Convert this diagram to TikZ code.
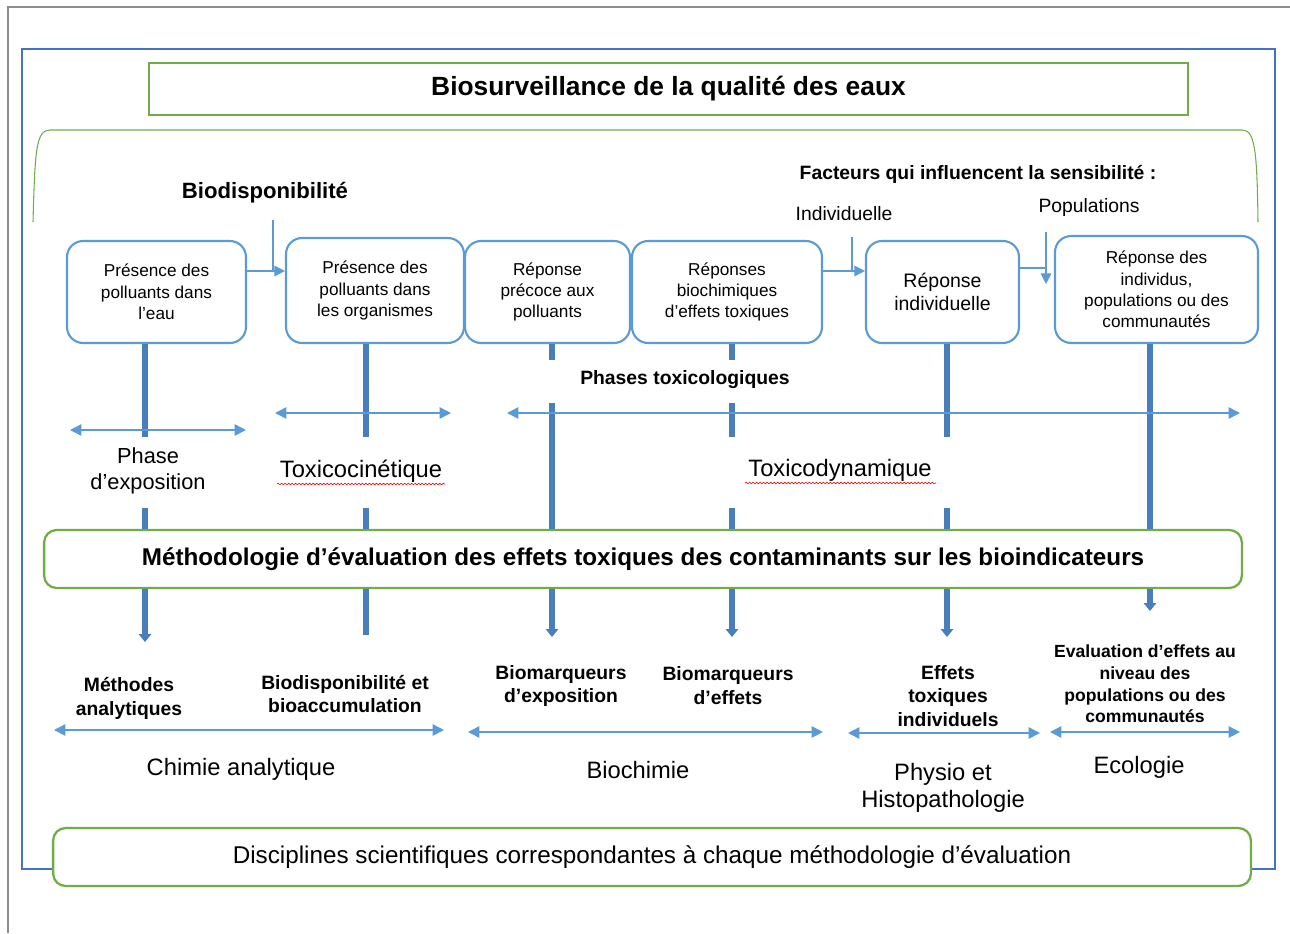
\documentclass[tikz,border=0pt]{standalone}
\usepackage{fontspec}
\setmainfont{Liberation Sans}
\usetikzlibrary{arrows.meta,decorations.pathmorphing}

\definecolor{vertcadre}{RGB}{112,173,71}
\definecolor{bleucadre}{RGB}{68,114,196}
\definecolor{bleuclair}{RGB}{91,155,213}
\definecolor{bleubarre}{RGB}{74,126,187}
\definecolor{grisbord}{RGB}{140,140,140}

\tikzset{
  etape/.style={draw=bleuclair, line width=1.2pt, rounded corners=0.32cm, fill=white,
    align=center, inner sep=1pt, minimum height=2.04cm, font=\fontsize{9.8}{12.2}\selectfont},
  cadrevert/.style={draw=vertcadre, line width=1.3pt, fill=white, align=center, minimum height=1.16cm},
  barre/.style={bleubarre, line width=3.4pt},
  barrefl/.style={barre, -{Triangle[width=7pt,length=4.5pt]}},
  fleche/.style={bleuclair, line width=0.9pt, {Triangle[width=6.5pt,length=6.5pt]}-{Triangle[width=6.5pt,length=6.5pt]}},
  lien/.style={bleuclair, line width=0.8pt},
  lienfl/.style={lien, -{Triangle[width=6pt,length=6pt]}},
  petitgras/.style={align=center, font=\fontsize{11}{13.6}\selectfont\bfseries},
  grand/.style={align=center, font=\fontsize{13.5}{15.3}\selectfont},
  souligne/.style={red, line width=0.35pt, decorate, decoration={snake, amplitude=0.45pt, segment length=2pt}}
}

\begin{document}
\begin{tikzpicture}[x=0.02cm, y=-0.02cm]
  \useasboundingbox (0,0) rectangle (1290,933);

  % Bordures
  \draw[grisbord, line width=0.6pt] (8,933) -- (8,7) -- (1290,7);
  \draw[bleucadre, line width=1.3pt] (22,49) rectangle (1275,869);

  % Titre
  \node[cadrevert, rounded corners=0pt, minimum width=20.78cm, minimum height=1.04cm,
        font=\fontsize{15}{16}\selectfont\bfseries] (titre) at (668.5,89)
        {Biosurveillance de la qualité des eaux};

  % Accolade verte
  \draw[vertcadre, line width=0.6pt] (33,222) .. controls (35,150) and (36,130) .. (50,130)
    -- (1242,130) .. controls (1255,130) and (1257,150) .. (1258,222);

  % Etapes
  \node[etape, minimum width=3.58cm] (b1) at (156.5,292) {Présence des\\polluants dans\\l'eau};
  \node[etape, minimum width=3.56cm, minimum height=2.1cm] (b2) at (375,290.5) {Présence des\\polluants dans\\les organismes};
  \node[etape, minimum width=3.3cm] (b3) at (547.5,292) {Réponse\\précoce aux\\polluants};
  \node[etape, minimum width=3.8cm] (b4) at (727,292) {Réponses\\biochimiques\\d'effets toxiques};
  \node[etape, minimum width=3.06cm, font=\fontsize{11.1}{13}\selectfont] (b5) at (942.5,292) {Réponse\\individuelle};
  \node[etape, minimum width=4.06cm, minimum height=2.14cm] (b6) at (1156.5,289.5) {Réponse des\\individus,\\populations ou des\\communautés};

  % Facteurs
  \node[petitgras, font=\fontsize{12.6}{14}\selectfont\bfseries] (biodisp) at (265,193) {Biodisponibilité};
  \node[petitgras] (facteurs) at (978,174) {Facteurs qui influencent la sensibilité :};
  \node[font=\fontsize{11}{13}\selectfont] (indiv) at (844,214) {Individuelle};
  \node[font=\fontsize{11}{13}\selectfont] (popul) at (1089,207) {Populations};

  \coordinate (j1) at (273,271);
  \coordinate (j2) at (852,271);
  \coordinate (j3) at (1046,268);
  \draw[lienfl] (b1.east |- j1) -- (b2.west |- j1);
  \draw[lien] (273,220) -- (j1);
  \draw[lienfl] (b4.east |- j2) -- (b5.west |- j2);
  \draw[lien] (852,237) -- (j2);
  \draw[lien] (b5.east |- j3) -- (j3);
  \draw[lienfl] (1046,232) -- (1046,284);

  % Phases
  \node[petitgras] (phases) at (685,380) {Phases toxicologiques};
  \node[grand, font=\fontsize{12.4}{14.7}\selectfont] (expo) at (148,471) {Phase\\d'exposition};
  \node[grand] (cinet) at (361,471) {Toxicocinétique};
  \node[grand] (dynam) at (840,470) {Toxicodynamique};
  \draw[souligne] (277,484) -- (445,484);
  \draw[souligne] (745,483) -- (936,483);

  % Methodologie
  \node[cadrevert, rounded corners=0.25cm, minimum width=23.96cm,
        font=\fontsize{13.8}{15}\selectfont\bfseries] (meth) at (643,559)
        {Méthodologie d'évaluation des effets toxiques des contaminants sur les bioindicateurs};

  % Barres verticales
  \coordinate (x1) at (145,0);
  \coordinate (x2) at (366,0);
  \coordinate (x3) at (552,0);
  \coordinate (x4) at (732,0);
  \coordinate (x5) at (947,0);
  \coordinate (x6) at (1150,0);
  \draw[barre] (x1 |- b1.south) -- (145,437);
  \draw[barre] (145,508) -- (x1 |- meth.north);
  \draw[barrefl] (x1 |- meth.south) -- (145,642);
  \draw[barre] (x2 |- b2.south) -- (366,437);
  \draw[barre] (366,508) -- (x2 |- meth.north);
  \draw[barre] (x2 |- meth.south) -- (366,635);
  \draw[barre] (x3 |- b3.south) -- (552,360);
  \draw[barre] (552,403) -- (x3 |- meth.north);
  \draw[barrefl] (x3 |- meth.south) -- (552,637);
  \draw[barre] (x4 |- b4.south) -- (732,360);
  \draw[barre] (732,403) -- (732,437);
  \draw[barre] (732,508) -- (x4 |- meth.north);
  \draw[barrefl] (x4 |- meth.south) -- (732,637);
  \draw[barre] (x5 |- b5.south) -- (947,437);
  \draw[barre] (947,508) -- (x5 |- meth.north);
  \draw[barrefl] (x5 |- meth.south) -- (947,637);
  \draw[barre] (x6 |- b6.south) -- (x6 |- meth.north);
  \draw[barrefl] (x6 |- meth.south) -- (1150,611);

  % Fleches horizontales
  \draw[fleche] (70,430) -- (246,430);
  \draw[fleche] (275,413) -- (451,413);
  \draw[fleche] (507,413) -- (1240,413);
  \draw[fleche] (54,730) -- (444,730);
  \draw[fleche] (468,732) -- (823,732);
  \draw[fleche] (848,733) -- (1040,733);
  \draw[fleche] (1050,732) -- (1240,732);

  % Methodes
  \node[petitgras] (methodes) at (129,698) {Méthodes\\analytiques};
  \node[petitgras] (bioacc) at (345,694) {Biodisponibilité et\\bioaccumulation};
  \node[petitgras] (biomexpo) at (561,686) {Biomarqueurs\\d'exposition};
  \node[petitgras] (biomeff) at (728,686) {Biomarqueurs\\d'effets};
  \node[petitgras] (effets) at (948,696) {Effets\\toxiques\\individuels};
  \node[petitgras, font=\fontsize{10}{12.3}\selectfont\bfseries] (evalu) at (1145,684) {Evaluation d'effets au\\niveau des\\populations ou des\\communautés};

  % Disciplines
  \node[grand] (chimie) at (241,769) {Chimie analytique};
  \node[grand] (biochimie) at (638,770) {Biochimie};
  \node[grand] (physio) at (943,788) {Physio et\\Histopathologie};
  \node[grand] (ecologie) at (1139,767) {Ecologie};
  \node[cadrevert, rounded corners=0.25cm, minimum width=23.96cm,
        font=\fontsize{13.8}{15}\selectfont] (disc) at (652,857)
        {Disciplines scientifiques correspondantes à chaque méthodologie d'évaluation};
\end{tikzpicture}
\end{document}
